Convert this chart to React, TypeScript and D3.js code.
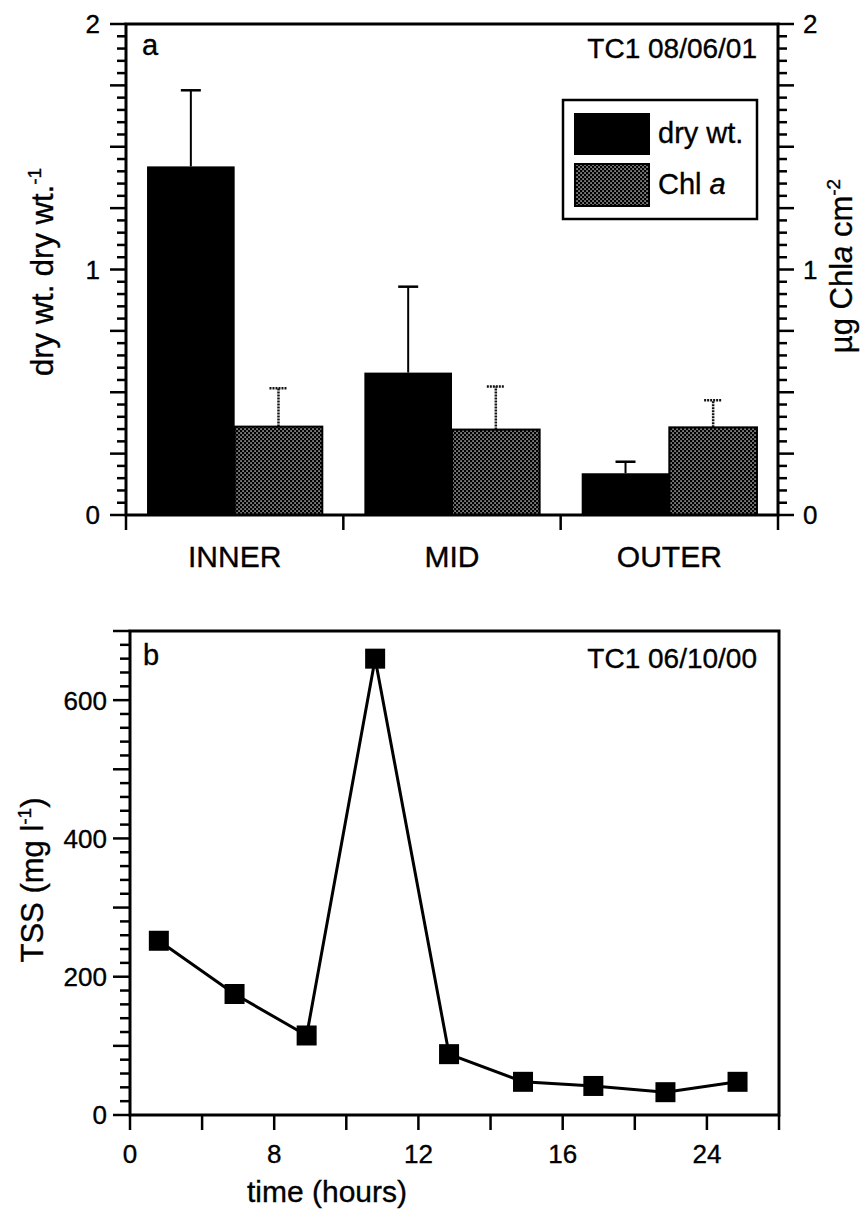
import React from "react";
import * as d3 from "d3";

// ---------- Panel a data ----------
const categories = ["INNER", "MID", "OUTER"];
const dryWt = [1.42, 0.58, 0.17];
const dryWtErr = [0.31, 0.35, 0.047];
const chlA = [0.36, 0.348, 0.357];
const chlAErr = [0.156, 0.175, 0.11];
const leftTickLabels = [0, 1, 2];
const rightTickLabels = [0, 1, 2];

// ---------- Panel b data ----------
const timeHours = [1.6, 5.8, 8.9, 10.8, 12.85, 14.9, 17.7, 21.7, 25.7];
const tss = [252, 175, 115, 660, 88, 48, 42, 33, 48];
const timeTicks = [0, 4, 8, 10, 12, 14, 16, 20, 24, 28];
const timeTickLabels = ["0", "", "8", "", "12", "", "16", "", "24", ""];
const tssTickLabels = [0, 200, 400, 600];

const FONT = "'Liberation Sans', Arial, Helvetica, sans-serif";

export default function App() {
  // Panel a geometry
  const aL = 126, aR = 778, aT = 24, aB = 515;
  const ya = d3.scaleLinear().domain([0, 2]).range([aB, aT]);
  const xBand = d3.scaleBand().domain(categories).range([aL, aR]).paddingInner(0).paddingOuter(0);
  const inner = d3.scaleBand().domain(["dry", "chl"]).range([0, xBand.bandwidth()]).paddingOuter(0.24).paddingInner(0);

  const minorA = d3.range(0, 2.0001, 0.05).map((v) => +v.toFixed(2));

  // Panel b geometry
  const bL = 130, bR = 779, bT = 631, bB = 1115;
  const xb = d3.scaleLinear().domain([0, 8, 12, 16, 24, 28]).range([bL, 274.2, 418.4, 562.7, 706.9, bR]);
  const yb = d3.scaleLinear().domain([0, 700]).range([bB, bT]);
  const minorB = d3.range(0, 701, 20);
  const line = d3.line<number>().x((_, i) => xb(timeHours[i])).y((d) => yb(d));

  const sw = 3;
  const ts = { stroke: "#000", strokeWidth: 0.35 } as const;

  return (
    <div style={{ position: "absolute", left: 0, top: 0 }}>
      <svg width={864} height={1213} style={{ display: "block", background: "#fff" }} fontFamily={FONT}>
        <defs>
          <pattern id="stip" patternUnits="userSpaceOnUse" width={4} height={4}>
            <rect width={4} height={4} fill="#000" />
            <rect x={0.4} y={0.4} width={1.3} height={1.3} fill="#fff" />
            <rect x={2.4} y={2.4} width={1.3} height={1.3} fill="#fff" />
          </pattern>
        </defs>

        {/* ===== Panel a ===== */}
        {categories.map((c, i) => {
          const x0 = xBand(c)!;
          const xd = x0 + inner("dry")!;
          const xc = x0 + inner("chl")!;
          const w = inner.bandwidth();
          const cd = xd + w / 2;
          const cc = xc + w / 2;
          return (
            <g key={c}>
              <line x1={cd} x2={cd} y1={ya(dryWt[i])} y2={ya(dryWt[i] + dryWtErr[i])} stroke="#000" strokeWidth={2} />
              <line x1={cd - 10} x2={cd + 10} y1={ya(dryWt[i] + dryWtErr[i])} y2={ya(dryWt[i] + dryWtErr[i])} stroke="#000" strokeWidth={2.5} />
              <rect x={xd} y={ya(dryWt[i])} width={w} height={ya(0) - ya(dryWt[i])} fill="#000" />
              <line x1={cc} x2={cc} y1={ya(chlA[i])} y2={ya(chlA[i] + chlAErr[i])} stroke="#111" strokeWidth={2.5} strokeDasharray="2,1" />
              <line x1={cc - 9} x2={cc + 9} y1={ya(chlA[i] + chlAErr[i])} y2={ya(chlA[i] + chlAErr[i])} stroke="#111" strokeWidth={2.5} strokeDasharray="2,1" />
              <rect x={xc} y={ya(chlA[i])} width={w} height={ya(0) - ya(chlA[i])} fill="url(#stip)" stroke="#000" strokeWidth={2} />
              <text x={x0 + xBand.bandwidth() / 2} y={567} fontSize={30} textAnchor="middle" {...ts}>{c}</text>
            </g>
          );
        })}

        <rect x={aL} y={aT} width={aR - aL} height={aB - aT} fill="none" stroke="#000" strokeWidth={sw} />

        {minorA.map((v) => {
          const long = Math.abs((v * 4) - Math.round(v * 4)) < 1e-6;
          return <line key={"la" + v} x1={aL - (long ? 16 : 9)} x2={aL} y1={ya(v)} y2={ya(v)} stroke="#000" strokeWidth={2.5} />;
        })}
        {minorA.map((v) => {
          const long = Math.abs((v * 4) - Math.round(v * 4)) < 1e-6;
          return <line key={"ra" + v} x1={aR} x2={aR + (long ? 16 : 9)} y1={ya(v)} y2={ya(v)} stroke="#000" strokeWidth={2.5} />;
        })}
        {[...categories.map((c) => xBand(c)!), aR].map((x, i) => (
          <line key={"ba" + i} x1={x} x2={x} y1={aB} y2={aB + 15} stroke="#000" strokeWidth={2.5} />
        ))}
        {leftTickLabels.map((v) => (
          <text key={"lt" + v} x={100} y={ya(v)} dy="0.36em" fontSize={26} textAnchor="end" {...ts}>{v}</text>
        ))}
        {rightTickLabels.map((v) => (
          <text key={"rt" + v} x={803} y={ya(v)} dy="0.36em" fontSize={26} textAnchor="start" {...ts}>{v}</text>
        ))}

        <text x={142} y={55} fontSize={29} {...ts}>a</text>
        <text x={757} y={58} fontSize={28} textAnchor="end" {...ts}>TC1 08/06/01</text>

        {/* legend */}
        <rect x={563} y={100} width={194} height={119} fill="#fff" stroke="#000" strokeWidth={2.5} />
        <rect x={574} y={113} width={76} height={42} fill="#000" />
        <rect x={575} y={164} width={74} height={42} fill="url(#stip)" stroke="#000" strokeWidth={2} />
        <text x={658} y={143} fontSize={29} {...ts}>dry wt.</text>
        <text x={658} y={194} fontSize={29} {...ts}>Chl <tspan fontStyle="italic">a</tspan></text>

        {/* axis titles */}
        <text transform={`translate(53,272) rotate(-90)`} fontSize={31} textAnchor="middle" {...ts}>
          dry wt. dry wt.<tspan fontSize={19} dy={-12}>-1</tspan>
        </text>
        <text transform={`translate(852,266) rotate(-90)`} fontSize={31} textAnchor="middle" {...ts}>
          µg Chl<tspan fontStyle="italic">a</tspan> cm<tspan fontSize={19} dy={-12}>-2</tspan>
        </text>

        {/* ===== Panel b ===== */}
        <rect x={bL} y={bT} width={bR - bL} height={bB - bT} fill="none" stroke="#000" strokeWidth={sw} />
        {minorB.map((v) => {
          const long = v % 100 === 0;
          return <line key={"lb" + v} x1={bL - (long ? 17 : 10)} x2={bL} y1={yb(v)} y2={yb(v)} stroke="#000" strokeWidth={2.5} />;
        })}
        {tssTickLabels.map((v) => (
          <text key={"tl" + v} x={107} y={yb(v)} dy="0.36em" fontSize={26} textAnchor="end" {...ts}>{v}</text>
        ))}
        {timeTicks.map((t, i) => (
          <g key={"xt" + t}>
            <line x1={xb(t)} x2={xb(t)} y1={bB} y2={bB + 15} stroke="#000" strokeWidth={2.5} />
            {timeTickLabels[i] && (
              <text x={xb(t)} y={1163} fontSize={26} textAnchor="middle" {...ts}>{timeTickLabels[i]}</text>
            )}
          </g>
        ))}

        <path d={line(tss) || ""} fill="none" stroke="#000" strokeWidth={3} />
        {tss.map((v, i) => (
          <rect key={"pt" + i} x={xb(timeHours[i]) - 10} y={yb(v) - 10} width={20} height={20} fill="#000" />
        ))}

        <text x={143} y={665} fontSize={29} {...ts}>b</text>
        <text x={757} y={668} fontSize={28} textAnchor="end" {...ts}>TC1 06/10/00</text>

        <text transform={`translate(43,880) rotate(-90)`} fontSize={31} textAnchor="middle" {...ts}>
          TSS (mg l<tspan fontSize={19} dy={-12}>-1</tspan><tspan dy={12}>)</tspan>
        </text>
        <text x={327} y={1202} fontSize={30} textAnchor="middle" {...ts}>time (hours)</text>
      </svg>
    </div>
  );
}
